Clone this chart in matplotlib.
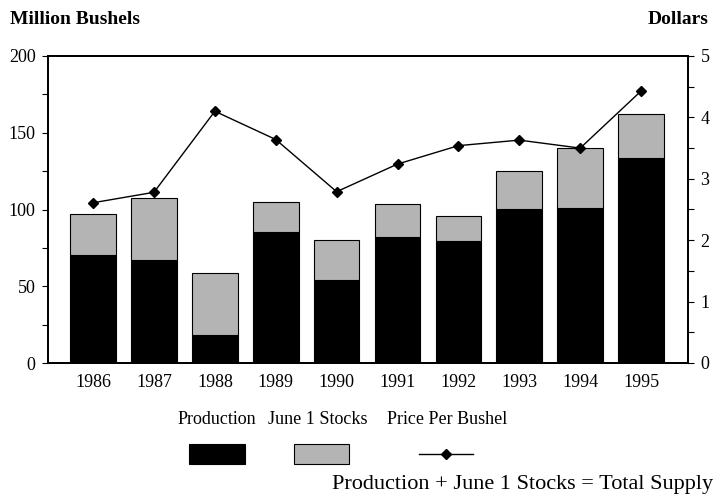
import matplotlib
matplotlib.use("Agg")
import matplotlib.pyplot as plt
from matplotlib.patches import Rectangle
from matplotlib.lines import Line2D
from matplotlib.ticker import MultipleLocator
import numpy as np

years = ["1986", "1987", "1988", "1989", "1990", "1991", "1992", "1993", "1994", "1995"]
production = [70.4, 67.0, 18.2, 85.1, 54.0, 81.9, 79.5, 100.3, 100.8, 133.3]
total_supply = [97.0, 107.3, 58.4, 105.0, 80.1, 103.6, 95.8, 125.0, 140.3, 162.0]
june_stocks = [t - p for t, p in zip(total_supply, production)]
price = [2.61, 2.78, 4.10, 3.64, 2.79, 3.24, 3.54, 3.63, 3.50, 4.43]

GREY = "#b4b4b4"
plt.rcParams["font.family"] = ["Liberation Serif", "DejaVu Serif"]
plt.rcParams["font.size"] = 13

fig = plt.figure(figsize=(7.15, 4.97), dpi=100)
W, H = 715, 497
ax = fig.add_axes([48 / W, 1 - 363 / H, 640 / W, 307 / H])
x = np.arange(len(years))
ax.bar(x, production, width=0.75, color="black", edgecolor="black", linewidth=0.8)
ax.bar(x, june_stocks, width=0.75, bottom=production, color=GREY,
       edgecolor="black", linewidth=0.8)
ax.set_xlim(-0.74, 9.77)
ax.set_ylim(0, 200)
ax.set_xticks(x)
ax.set_xticklabels(years)
ax.tick_params(axis="x", length=0, pad=8)
ax.yaxis.set_major_locator(MultipleLocator(50))
ax.yaxis.set_minor_locator(MultipleLocator(25))
ax.tick_params(axis="y", which="major", length=4, width=0.8, pad=5)
ax.tick_params(axis="y", which="minor", length=4, width=0.8)
for s in ax.spines.values():
    s.set_linewidth(1.3)

ax2 = ax.twinx()
ax2.plot(x, price, color="black", lw=1.0, marker="D", markersize=5)
ax2.set_ylim(0, 5)
ax2.yaxis.set_major_locator(MultipleLocator(1))
ax2.yaxis.set_minor_locator(MultipleLocator(0.5))
ax2.tick_params(axis="y", which="major", length=4, width=0.8, pad=5)
ax2.tick_params(axis="y", which="minor", length=4, width=0.8)
for s in ax2.spines.values():
    s.set_linewidth(1.3)

fig.text(10 / W, 1 - 19 / H, "Million Bushels", fontweight="bold", fontsize=14,
         va="center", ha="left")
fig.text(709 / W, 1 - 19 / H, "Dollars", fontweight="bold", fontsize=14,
         va="center", ha="right")

# legend, labels above swatches
ly = 1 - 419 / H
fig.text(217 / W, ly, "Production", ha="center", va="center")
fig.text(318 / W, ly, "June 1 Stocks", ha="center", va="center")
fig.text(447 / W, ly, "Price Per Bushel", ha="center", va="center")
fig.patches.append(Rectangle((189 / W, 1 - 464 / H), 56 / W, 20 / H,
                             transform=fig.transFigure, facecolor="black",
                             edgecolor="black", lw=0.8))
fig.patches.append(Rectangle((294 / W, 1 - 464 / H), 55 / W, 20 / H,
                             transform=fig.transFigure, facecolor=GREY,
                             edgecolor="black", lw=0.8))
fig.lines.append(Line2D([419 / W, 473 / W], [1 - 454 / H, 1 - 454 / H],
                        transform=fig.transFigure, color="black", lw=1.0))
fig.lines.append(Line2D([446 / W], [1 - 454 / H], transform=fig.transFigure,
                        color="black", marker="D", markersize=5))
fig.text(713 / W, 1 - 484 / H, "Production + June 1 Stocks = Total Supply",
         ha="right", va="center", fontsize=16)

fig.savefig("out.png", dpi=100)
